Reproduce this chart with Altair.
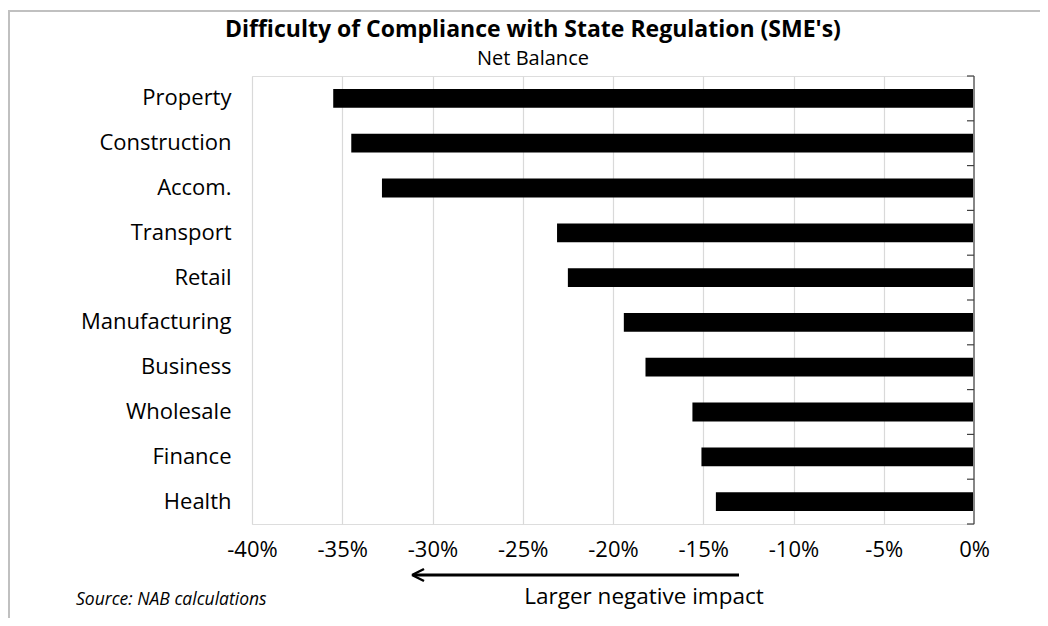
import altair as alt
import pandas as pd

categories = ["Property", "Construction", "Accom.", "Transport", "Retail",
              "Manufacturing", "Business", "Wholesale", "Finance", "Health"]
values = [-35.5, -34.5, -32.8, -23.1, -22.5, -19.4, -18.2, -15.6, -15.1, -14.3]
x_ticks = [-40, -35, -30, -25, -20, -15, -10, -5, 0]

title_text = "Difficulty of Compliance with State Regulation (SME's)"
subtitle_text = "Net Balance"
source_text = "Source: NAB calculations"
arrow_text = "Larger negative impact"

FONT = "Open Sans"
W, H = 722, 448
P_IN, P_OUT = 0.58, 0.29
STEP = H / (len(categories) - P_IN + 2 * P_OUT)

df = pd.DataFrame({"cat": categories, "val": values})

xscale = alt.Scale(domain=[-40, 0], nice=False)
yscale = alt.Scale(domain=categories, paddingInner=P_IN, paddingOuter=P_OUT)

bars = alt.Chart(df).mark_bar(color="black").encode(
    x=alt.X("val:Q", scale=xscale,
            axis=alt.Axis(values=x_ticks, labelExpr="datum.value + '%'", title=None,
                          domain=False, ticks=False, grid=True, labelFlush=False,
                          gridColor={"condition": {"test": "datum.value === 0", "value": "transparent"},
                                     "value": "#d9d9d9"},
                          gridWidth=1.2,
                          labelFontSize=22, labelColor="black", labelFont=FONT,
                          labelPadding=15)),
    y=alt.Y("cat:N", scale=yscale, sort=categories,
            axis=alt.Axis(title=None, domain=False, ticks=False, labelFontSize=22,
                          labelPadding=21, labelColor="black", labelFont=FONT)),
)

# small axis ticks on the zero line, at the boundaries between categories
cat_ticks = alt.Chart(df).mark_rule(color="#404040", strokeWidth=1.2).encode(
    y=alt.Y("cat:N", scale=yscale, sort=categories, bandPosition=0),
    yOffset=alt.value(-P_IN * STEP / 2),
    x=alt.value(W - 7), x2=alt.value(W),
)
end_tick = alt.Chart(pd.DataFrame({"k": [0]})).mark_rule(color="#404040", strokeWidth=1.2).encode(
    y=alt.value(H), x=alt.value(W - 7), x2=alt.value(W))

zero_line = alt.Chart(pd.DataFrame({"v": [0]})).mark_rule(color="#868686", strokeWidth=2).encode(
    x=alt.X("v:Q", scale=xscale)
)

def txt(s, x, y, size, weight="normal", style="normal", align="center"):
    return alt.Chart(pd.DataFrame({"t": [s]})).mark_text(
        font=FONT, fontSize=size, fontWeight=weight, fontStyle=style,
        align=align, baseline="middle", color="black"
    ).encode(text="t:N", x=alt.value(x), y=alt.value(y))

title = txt(title_text, 281, -46, 23, weight="bold")
subtitle = txt(subtitle_text, 281, -17, 20)
source = txt(source_text, -176, 524, 17.5, style="italic", align="left")
arrow_label = txt(arrow_text, 392, 521, 22.5)

one = pd.DataFrame({"k": [0]})
arrow_shaft = alt.Chart(one).mark_rule(color="black", strokeWidth=3).encode(
    x=alt.value(161), x2=alt.value(487), y=alt.value(499))
arrow_head1 = alt.Chart(one).mark_rule(color="black", strokeWidth=2.5).encode(
    x=alt.value(160), x2=alt.value(172), y=alt.value(499), y2=alt.value(493))
arrow_head2 = alt.Chart(one).mark_rule(color="black", strokeWidth=2.5).encode(
    x=alt.value(160), x2=alt.value(172), y=alt.value(499), y2=alt.value(505))

frame_top = alt.Chart(one).mark_rule(color="#c0c0c0", strokeWidth=2).encode(
    x=alt.value(-252), x2=alt.value(796), y=alt.value(-65))
frame_left = alt.Chart(one).mark_rule(color="#c0c0c0", strokeWidth=2).encode(
    x=alt.value(-243), y=alt.value(-65), y2=alt.value(560))

chart = alt.layer(
    bars, zero_line, cat_ticks, end_tick, title, subtitle, source, arrow_label,
    arrow_shaft, arrow_head1, arrow_head2, frame_top, frame_left
).properties(
    width=W, height=H,
    autosize=alt.AutoSizeParams(type="none"),
    padding={"left": 244, "top": 68, "right": 66, "bottom": 94},
).configure_view(stroke=None).configure(background="white")

chart.save("out.html", embed_options={"renderer": "svg", "actions": False})
